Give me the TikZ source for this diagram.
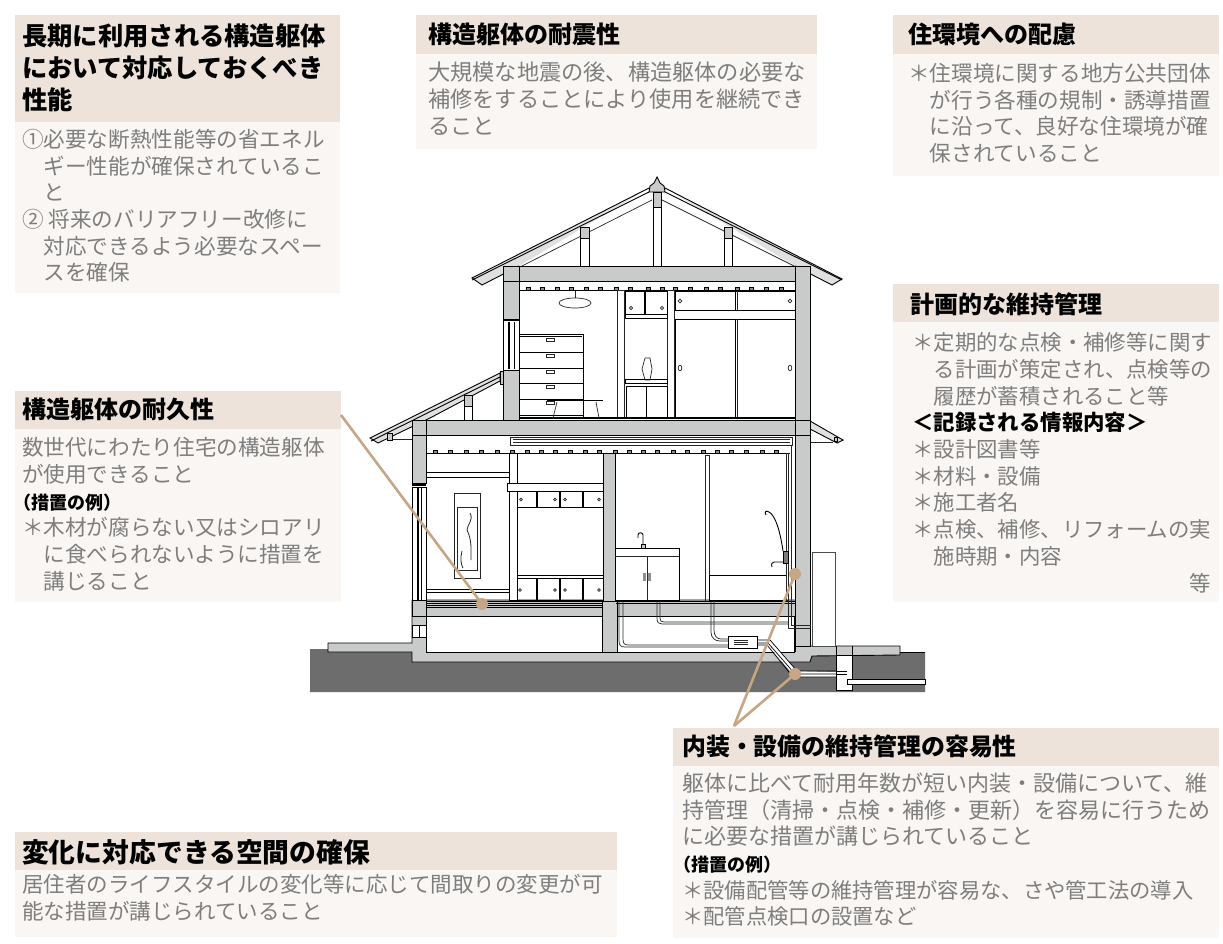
\documentclass[tikz,border=0pt]{standalone}
\usepackage{fontspec}
\setmainfont{Noto Sans CJK JP}
\definecolor{headbg}{HTML}{EDE3DA}
\definecolor{bodybg}{HTML}{F9F6F3}
\definecolor{bodytx}{HTML}{7E7E7E}
\definecolor{tan}{HTML}{C6A685}
\definecolor{wallc}{HTML}{C9CBCA}
\definecolor{groundc}{HTML}{6D6D6D}
\tikzset{
 headbox/.style={fill=headbg,draw=none},
 bodybox/.style={fill=bodybg,draw=none},
 title/.style={anchor=north west,inner sep=0pt,align=left,text=black,font=\fontsize{#1}{32}\selectfont\bfseries},
 body/.style={anchor=north west,inner sep=0pt,align=left,text=bodytx,font=\fontsize{#1}{26.7}\selectfont},
 wall/.style={fill=wallc,draw=black,line width=0.9pt},
 ln/.style={draw=black,line width=0.9pt},
 thin/.style={draw=black!85,line width=0.7pt},
 wht/.style={fill=white,draw=black,line width=0.8pt},
 leader/.style={draw=tan,line width=2.6pt},
 leaderdot/.style={circle,fill=tan,draw=none,inner sep=0pt,minimum size=12pt},
}
\newcommand{\ind}{\hspace*{1em}}
\newcommand{\mini}[1]{{\fontsize{18}{26.7}\selectfont\bfseries\color{black}\hspace*{-0.5em}#1}}
\begin{document}
\begin{tikzpicture}[x=1pt,y=-1pt]
\useasboundingbox (0,0) rectangle (1223,944);
\fill[white] (0,0) rectangle (1223,944);
% panels
\fill[bodybox] (15,122) rectangle (340,293);
\fill[headbox] (15,15) rectangle (340,122);
\fill[bodybox] (416,54) rectangle (817,149);
\fill[headbox] (416,15) rectangle (817,54);
\fill[bodybox] (893,54) rectangle (1219,176);
\fill[headbox] (893,15) rectangle (1219,54);
\fill[bodybox] (893,322) rectangle (1219,602);
\fill[headbox] (893,284) rectangle (1219,322);
\fill[bodybox] (15,429) rectangle (341,602);
\fill[headbox] (15,391) rectangle (341,429);
\fill[bodybox] (673,766) rectangle (1219,938);
\fill[headbox] (673,728) rectangle (1219,766);
\fill[bodybox] (15,870) rectangle (617,937);
\fill[headbox] (15,832) rectangle (617,870);
% ground
\fill[groundc] (310,649) -- (330,649) -- (330,652) -- (925,652) -- (925,692) -- (310,692) -- cycle;
\draw[ln] (900,652) -- (925,652);
% upper roof
\draw[wall,fill=wallc!60] (649,188) -- (472,278) -- (482,285) -- (519,266);
\draw[wall,fill=wallc!60] (665,188) -- (842,279) -- (832,285) -- (795,266);
\draw[thin] (652,200) -- (520,267);
\draw[thin] (662,200) -- (796,267);
\draw[ln] (649,192) -- (472,280);
\draw[ln] (665,192) -- (842,280);
\draw[wht] (653,192) rectangle (661,266);
\draw[wall] (653,192) rectangle (661,207);
\draw[wall] (649,192) -- (650,186) -- (654,183) -- (657,177) -- (660,183) -- (664,186) -- (665,192) -- cycle;
\draw[wht] (580,227) rectangle (589,266);
\draw[wall] (580,227) rectangle (589,238);
\draw[wht] (724,227) rectangle (732,266);
\draw[wall] (724,227) rectangle (732,238);
% upper storey
\fill[white] (519,281) rectangle (795,420);
\draw[wall] (503,266) rectangle (810,281);
\draw[wall] (503,266) rectangle (519,320);
\draw[ln] (503,281) -- (519,281);
\draw[wht] (503,320) rectangle (519,370);
\draw[ln,line width=1.4pt] (509,322) -- (509,369);
\draw[ln] (514,322) -- (514,369);
\draw[ln,line width=1.6pt] (503,320) -- (519,320);
\draw[wall] (503,370) rectangle (519,420);
\draw[wall] (795,266) rectangle (810,420);
\draw[ln] (519,290) -- (795,290);
\foreach \jx in {528,542,557,571,586,600,616,630,648,662,675,690,706,720,737,751,766,781}
  \draw[fill=wallc!70!black,draw=black,line width=0.5pt] (\jx-2,287) rectangle (\jx+2,290);
\draw[thin] (575,291) -- (575,298);
\draw[thin] (575,303) ellipse [x radius=16,y radius=5];
% chest
\draw[wht] (519,334) rectangle (583,418);
\draw[ln] (519,336) -- (582,336);
\foreach \dy in {352,368,383,399,415} \draw[ln] (519,\dy) -- (583,\dy);
\foreach \hy in {340,356,372,387,403} \draw[thin] (546,\hy-1.5) rectangle (554,\hy+1.5);
% desk
\draw[ln] (547,400) -- (603,400);
\draw[thin] (557,402) -- (553,418);
\draw[thin] (596,402) -- (599,418);
% posts
\draw[thin] (617,290) rectangle (624,418);
\draw[thin] (667,290) rectangle (674,418);
% alcove
\draw[ln] (625,291) rectangle (667,314);
\draw[ln,line width=1.6pt] (645,291) -- (645,314);
\draw[thin] (631,308) circle (1.6);
\draw[thin] (662,308) circle (1.6);
\draw[ln] (625,314) rectangle (667,318);
\draw[ln] (625,379) rectangle (667,383);
\draw[ln] (626,386) rectangle (667,418);
\draw[ln] (646,386) -- (646,418);
\draw[thin] (645,358) -- (650,358) -- (652,369) -- (650,380) -- (645,380) -- (642,369) -- cycle;
% closet
\draw[ln] (675,291) rectangle (795,310);
\draw[ln] (735,291) -- (735,310);
\draw[thin] (737,291) -- (737,310);
\draw[ln] (675,319) rectangle (795,418);
\draw[ln] (735,319) -- (735,418);
\draw[thin] (737,319) -- (737,418);
\draw[thin] (680,301) circle (1.8);
\draw[thin] (790,301) circle (1.8);
\draw[thin] (680,368) ellipse [x radius=1.8,y radius=2.8];
\draw[thin] (790,368) ellipse [x radius=1.8,y radius=2.8];
\draw[ln,line width=1.6pt] (519,418) -- (795,418);
% lower roofs
\draw[wall,fill=wallc!60] (500,373) -- (370,438) -- (378,443) -- (430,418) -- (500,381) -- cycle;
\draw[ln] (500,377) -- (371,441);
\draw[wall] (500,371) rectangle (503,384);
\draw[wht] (464,395) rectangle (472,420);
\draw[wall] (464,395) rectangle (472,406);
\draw[wall,fill=wallc!60] (810,421) -- (843,440) -- (837,443) -- (810,429) -- cycle;
\draw[thin] (810,442) -- (833,442);
\draw[thin] (390,439) -- (412,439);
\draw[wall] (387,433) rectangle (392,440);
\draw[wall] (834,437) rectangle (837,441);
% ground floor white
\fill[white] (426,435) rectangle (795,601);
% foundation
\draw[wall] (412,600) -- (412,643) -- (328,643) -- (328,652) -- (412,652) -- (412,662) -- (810,662) -- (812,656) -- (900,655) -- (900,646) -- (810,646) -- (810,600) -- cycle;
\draw[wht] (426,616) rectangle (602,652);
\draw[wht] (617,616) rectangle (794,652);
% floor beam
\draw[wall] (426,607) rectangle (602,616);
\draw[wall] (616,603) rectangle (795,616);
\draw[wall] (602,601) rectangle (617,652);
\draw[ln] (412,616) -- (426,616);
\draw[ln] (412,625) -- (426,625);
\draw[wht] (412,625) rectangle (426,637);
\draw[ln] (419,625) -- (419,637);
\draw[ln] (426,601) -- (602,601);
\draw[ln] (426,603) -- (602,603);
\draw[ln] (426,605) -- (602,605);
\draw[ln] (795,603) -- (810,603);
\draw[ln] (795,616) -- (810,616);
\draw[ln] (795,646) -- (795,652);
\draw[ln] (795,652) -- (617,652);
% walls & beam
\draw[wall] (412,420) rectangle (810,435);
\draw[wall] (412,420) rectangle (426,483);
\draw[ln] (412,435) -- (426,435);
\draw[wall] (412,600) rectangle (426,616);
\draw[wht] (412,487) rectangle (426,600);
\draw[ln,line width=1.4pt] (412,485) -- (426,485);
\draw[ln,line width=1.4pt] (418,487) -- (418,600);
\draw[ln] (421,487) -- (421,600);
\draw[wall] (795,420) rectangle (810,646);
\draw[ln] (795,435) -- (810,435);
\draw[wall] (603,453) rectangle (615,601);
% ceiling
\draw[ln] (426,453) -- (790,453);
\foreach \jx in {435,450,466,481,497,512,527,541,555,570,585,599,615,629,643,657,673,687,703,717,731,746,762,776}
  \draw[fill=wallc!70!black,draw=black,line width=0.5pt] (\jx-2,450) rectangle (\jx+2,453);
\draw[thin] (510,437) rectangle (792,445);
\draw[thin] (513,439.5) -- (790,439.5);
\draw[thin] (513,442) -- (790,442);
% left room
\draw[ln] (426,472) rectangle (509,477);
\draw[ln] (426,589) -- (509,589);
\draw[ln] (426,592) -- (509,592);
\draw[thin] (454,493) rectangle (480,578);
\draw[thin] (457,507) rectangle (477,570);
\draw[thin,line width=0.8pt] (470,513) .. controls (474,520) and (467,525) .. (467,530) .. controls (472,540) and (471,550) .. (471,560);
\draw[thin,line width=0.8pt] (462,551) .. controls (460,558) and (461,565) .. (463,568);
\draw[wht] (509,453) rectangle (517,600);
\draw[wht] (507,483) rectangle (603,491);
\draw[ln] (517,491) rectangle (603,507);
\draw[ln] (517,575) -- (603,575);
\draw[ln] (517,578) rectangle (603,600);
\foreach \sx in {537,560,583} {
  \draw[ln,line width=1.4pt] (\sx,491) -- (\sx,507);
  \draw[ln,line width=1.4pt] (\sx,578) -- (\sx,600);
}
\foreach \kx/\ky in {521/499.5,555/499.5,565/499.5,599/499.5,520/590,555/590,565/590,599/590}
  \draw[thin] (\kx,\ky) circle (1.4);
% right room
\draw[thin] (705,455) rectangle (709,601);
\draw[wht] (615,548) rectangle (679,600);
\draw[thin] (615,556) -- (679,556);
\draw[thin] (647,556) -- (647,600);
\draw[fill=wallc!70!black,draw=none] (643,573) rectangle (646,581);
\draw[fill=wallc!70!black,draw=none] (648,573) rectangle (651,581);
\draw[ln] (643,548) -- (643,535) .. controls (643,532) and (638,532) .. (638,535) -- (638,538);
\draw[wall] (641,544) rectangle (645,548);
\draw[wht] (709,575) rectangle (786,600);
\draw[thin] (786,453) rectangle (788,600);
\draw[thin] (791,445) -- (791,601);
\draw[ln] (783,551) .. controls (780,530) and (775,515) .. (769,512) .. controls (766,510) and (764,512) .. (766,515);
\draw[fill=wallc!60!black,draw=black,line width=0.6pt] (783,551) rectangle (788,563);
\draw[ln] (783,562) -- (774,562) .. controls (772,562) and (771,564) .. (772,567);
\draw[ln] (616,601) -- (795,601);
\draw[ln] (616,603) -- (795,603);
% pipes
\begin{scope}[thin]
\draw (619,601) -- (619,640) .. controls (619,645) and (620,647) .. (625,647) -- (728,647);
\draw (623,601) -- (623,638) .. controls (623,643) and (624,645) .. (628,645) -- (728,645);
\draw (657,601) -- (657,618) .. controls (657,623) and (659,624) .. (662,624) -- (788,624);
\draw (660,601) -- (660,618) .. controls (660,621) and (661,622) .. (664,622) -- (788,622);
\draw (711,601) -- (711,632) .. controls (711,638) and (715,641) .. (720,641) -- (728,641);
\draw (714,601) -- (714,630) .. controls (714,636) and (717,639) .. (721,639) -- (728,639);
\draw (788,601) -- (788,628) -- (811,628);
\draw (791,601) -- (791,625) -- (811,625);
\end{scope}
% trap
\fill[white] (757,640) -- (770,640) -- (797,671) -- (837,672) -- (837,677) -- (795,677) -- (768,645) -- (757,645) -- cycle;
\draw[ln,line width=0.7pt] (757,640) -- (770,640) -- (797,671) -- (847,671);
\draw[ln,line width=0.7pt] (757,643) -- (768,643) -- (795,674) -- (847,674);
\draw[ln,line width=0.7pt] (757,645) -- (767,645) -- (793,677) -- (837,677);
\draw[wht] (728,636) rectangle (757,648);
\draw[thin] (734,640) -- (748,640);
\draw[thin] (734,642) -- (748,642);
\draw[thin] (734,644) -- (748,644);
\draw[fill=white,draw=black,line width=0.6pt] (836,655) rectangle (852,690);
\draw[ln] (836,646) -- (836,655);
\draw[ln] (852,646) -- (852,655);
\draw[fill=white,draw=black,line width=0.5pt] (847,679) rectangle (925,684);
\draw[ln,line width=0.7pt] (837,671) -- (847,671);
\draw[ln,line width=0.7pt] (837,674) -- (847,674);
% outer box
\draw[fill=white,draw=black!70,line width=0.7pt] (812,552) rectangle (835,646);
% leaders
\node[leaderdot] (d1) at (482,604) {};
\node[leaderdot] (d2) at (795,574) {};
\node[leaderdot] (d3) at (795,674) {};
\coordinate (lead1) at (341,415);
\coordinate (apex) at (734,726);
\draw[leader] (lead1) -- (d1.center);
\draw[leader] (apex) -- (d2.center);
\draw[leader] (apex) -- (d3.center);
% texts
\node[title=25.3] (t1) at (22,24) {長期に利用される構造躯体\\において対応しておくべき\\性能};
\node[body=21.6] (b1) at (22,129) {①必要な断熱性能等の省エネル\\\ind ギー性能が確保されているこ\\\ind と\\② 将来のバリアフリー改修に\\\ind 対応できるよう必要なスペー\\\ind スを確保};
\node[title=24] (t2) at (428,23) {構造躯体の耐震性};
\node[body=22.2] (b2) at (428,62) {大規模な地震の後、構造躯体の必要な\\補修をすることにより使用を継続でき\\ること};
\node[title=24] (t3) at (908,23) {住環境への配慮};
\node[body=21.6] (b3) at (908,63) {＊住環境に関する地方公共団体\\\ind が行う各種の規制・誘導措置\\\ind に沿って、良好な住環境が確\\\ind 保されていること};
\node[title=24] (t4) at (910,293) {計画的な維持管理};
\node[body=21.4] (b4) at (912,332.5) {＊定期的な点検・補修等に関す\\\ind る計画が策定され、点検等の\\\ind 履歴が蓄積されること等\\\textbf{\textcolor{black}{＜記録される情報内容＞}}\\＊設計図書等\\＊材料・設備\\＊施工者名\\＊点検、補修、リフォームの実\\\ind 施時期・内容};
\node[body=21.4,anchor=north east] (b4e) at (1211,573) {等};
\node[title=24] (t5) at (22,398) {構造躯体の耐久性};
\node[body=21.6] (b5) at (22,437.5) {数世代にわたり住宅の構造躯体\\が使用できること\\\mini{（措置の例）}\\＊木材が腐らない又はシロアリ\\\ind に食べられないように措置を\\\ind 講じること};
\node[title=23.9] (t6) at (682,735) {内装・設備の維持管理の容易性};
\node[body=22] (b6) at (682,772.5) {躯体に比べて耐用年数が短い内装・設備について、維\\持管理（清掃・点検・補修・更新）を容易に行うため\\に必要な措置が講じられていること\\\mini{（措置の例）}\\{\fontsize{21.3}{26.7}\selectfont ＊設備配管等の維持管理が容易な、さや管工法の導入}\\{\fontsize{21.3}{26.7}\selectfont ＊配管点検口の設置など}};
\node[title=26.8] (t7) at (22,839) {変化に対応できる空間の確保};
\node[body=21.5] (b7) at (22,874) {居住者のライフスタイルの変化等に応じて間取りの変更が可\\能な措置が講じられていること};
\end{tikzpicture}
\end{document}
